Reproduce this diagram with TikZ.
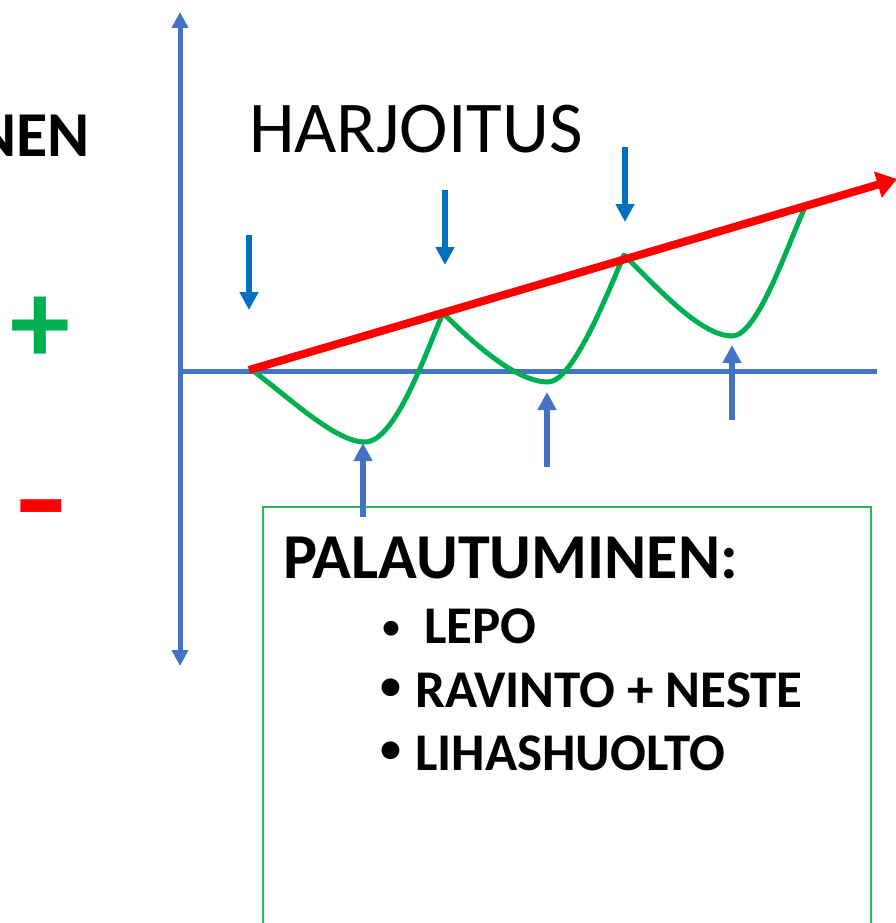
\documentclass[tikz,border=0pt]{standalone}
\usepackage{fontspec}
\setmainfont{Carlito}
\usetikzlibrary{arrows.meta}
\definecolor{axisblue}{HTML}{4472C4}
\definecolor{downblue}{HTML}{0070C0}
\definecolor{pptgreen}{HTML}{00B050}
\definecolor{boxgreen}{HTML}{2EB85C}
\definecolor{pptred}{HTML}{FF0000}
\begin{document}
\begin{tikzpicture}[x=1pt,y=-1pt,
  axisline/.style={draw=axisblue,line width=5pt},
  downarr/.style={draw=downblue,line width=6pt,-{Triangle[width=18pt,length=18pt]}},
  uparr/.style={draw=axisblue,line width=6pt,-{Triangle[width=18pt,length=18pt]}},
  trend/.style={draw=pptred,line width=8pt,-{Triangle[width=26pt,length=20pt]}},
  wave/.style={draw=pptgreen,line width=5pt,line join=round},
  lbl/.style={inner sep=0pt,anchor=base west},
  bigbold/.style={font=\fontsize{64}{64}\bfseries\selectfont},
  itemfont/.style={font=\fontsize{53}{53}\bfseries\selectfont},
  bulletfont/.style={inner sep=0pt,anchor=center,font=\fontsize{42}{42}\bfseries\selectfont},
]
\useasboundingbox (0,0) rectangle (895,923);
\fill[white] (0,0) rectangle (895,923);

% axes
\coordinate (vtop) at (180,12);
\coordinate (vbot) at (180,666);
\coordinate (origin) at (180,371);
\coordinate (hend) at (877,371);
\draw[axisline,{Triangle[width=16pt,length=16pt]}-{Triangle[width=16pt,length=16pt]}] (vbot) -- (vtop);
\draw[axisline] (origin) -- (hend);

% recovery box
\coordinate (boxnw) at (263,507);
\coordinate (boxse) at (871,940);
\draw[boxgreen,line width=1.6pt] (boxnw) rectangle (boxse);

% green wave
\coordinate (p0) at (252,370);
\coordinate (m1) at (365,442);
\coordinate (k1) at (443,313);
\coordinate (m2) at (548,382);
\coordinate (k2) at (624,255);
\coordinate (m3) at (732,336);
\coordinate (e) at (805,207);
\draw[wave] (p0) .. controls (290,398) and (335,442) .. (m1)
  .. controls (395,442) and (425,355) .. (k1)
  .. controls (470,340) and (515,382) .. (m2)
  .. controls (572,382) and (605,300) .. (k2)
  .. controls (655,285) and (700,336) .. (m3)
  .. controls (757,336) and (785,252) .. (e);

% red trend arrow
\coordinate (rstart) at (249,370);
\coordinate (rend) at (897,179);
\draw[trend] (rstart) -- (rend);

% training arrows
\coordinate (d1a) at (249,235); \coordinate (d1b) at (249,310);
\coordinate (d2a) at (445,190); \coordinate (d2b) at (445,265);
\coordinate (d3a) at (625,147); \coordinate (d3b) at (625,222);
\draw[downarr] (d1a) -- (d1b);
\draw[downarr] (d2a) -- (d2b);
\draw[downarr] (d3a) -- (d3b);

% recovery arrows
\coordinate (u1a) at (363,517); \coordinate (u1b) at (363,443);
\coordinate (u2a) at (547,467); \coordinate (u2b) at (547,392);
\coordinate (u3a) at (732,420); \coordinate (u3b) at (732,345);
\draw[uparr] (u1a) -- (u1b);
\draw[uparr] (u2a) -- (u2b);
\draw[uparr] (u3a) -- (u3b);

% texts
\node[lbl,font=\fontsize{73}{73}\selectfont] (harj) at (249,153) {HARJOITUS};
\node[inner sep=0pt,anchor=base east,bigbold] (nen) at (90,157) {NEN};
\node[inner sep=0pt,text=pptgreen,font=\fontsize{120}{120}\bfseries\selectfont] (plus) at (40,330) {+};
\node[inner sep=0pt,anchor=base,text=pptred,font=\fontsize{175}{175}\selectfont] (minus) at (41,555) {-};

\node[lbl,bigbold] (pal) at (283,578) {PALAUTUMINEN:};
\node[bulletfont,font=\fontsize{35}{35}\bfseries\selectfont] (b1) at (391,630) {•};
\node[lbl,itemfont] (i1) at (424,643) {LEPO};
\node[bulletfont] (b2) at (391,689) {•};
\node[lbl,itemfont] (i2) at (415,707) {RAVINTO + NESTE};
\node[bulletfont] (b3) at (391,752) {•};
\node[lbl,itemfont] (i3) at (415,770) {LIHASHUOLTO};
\end{tikzpicture}
\end{document}
